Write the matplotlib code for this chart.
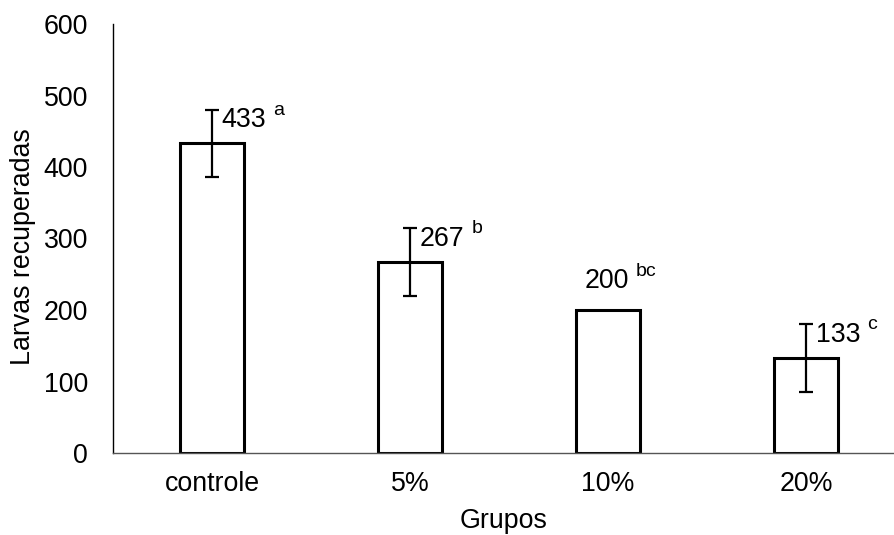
import matplotlib
matplotlib.use("Agg")
import matplotlib.pyplot as plt

plt.rcParams['font.family'] = ['Liberation Sans', 'DejaVu Sans']

categories = ["controle", "5%", "10%", "20%"]
values = [433, 267, 200, 133]
errors = [47, 47, 0, 47]
letters = ["a", "b", "bc", "c"]
yticks = [0, 100, 200, 300, 400, 500, 600]

fig = plt.figure(figsize=(8.95, 5.35), dpi=100)
ax = fig.add_axes([113/895, (535-453)/535, (895-113)/895, (453-24)/535])

x = list(range(len(categories)))
ax.bar(x, values, width=0.32, color='white', edgecolor='black', linewidth=2.2, zorder=2)
for xi, v, e in zip(x, values, errors):
    if e > 0:
        ax.errorbar(xi, v, yerr=e, fmt='none', ecolor='black', elinewidth=1.6,
                    capsize=5, capthick=1.6, zorder=3)

FS = 19.3
for xi, v, e, l in zip(x, values, errors, letters):
    if e > 0:
        t = ax.annotate(str(v), xy=(xi, v + e), xytext=(7, -12.5), textcoords='offset points',
                        ha='left', va='baseline', fontsize=FS, zorder=4)
    else:
        t = ax.annotate(str(v), xy=(xi, v), xytext=(-17, 15.5), textcoords='offset points',
                        ha='left', va='baseline', fontsize=FS, zorder=4)
    ax.annotate(l, xy=(1, 1), xycoords=t, xytext=(5, 4), textcoords='offset points',
                ha='left', va='top', fontsize=14)

ax.set_xlim(-0.5, 3.45)
ax.set_ylim(0, 600)
ax.set_yticks(yticks)
ax.set_xticks(x)
ax.set_xticklabels(categories)
ax.tick_params(axis='both', length=0, labelsize=FS)
ax.tick_params(axis='y', pad=18)
ax.tick_params(axis='x', pad=13)
ax.spines['top'].set_visible(False)
ax.spines['right'].set_visible(False)
ax.spines['left'].set_linewidth(1.0)
ax.spines['bottom'].set_linewidth(1.0)
ax.spines['bottom'].set_color('#555555')

ax.set_xlabel("Grupos", fontsize=FS, labelpad=8)
ax.set_ylabel("Larvas recuperadas", fontsize=FS, va='center')
ax.yaxis.set_label_coords(-0.115, 0.482)

fig.savefig("out.png", dpi=100)
